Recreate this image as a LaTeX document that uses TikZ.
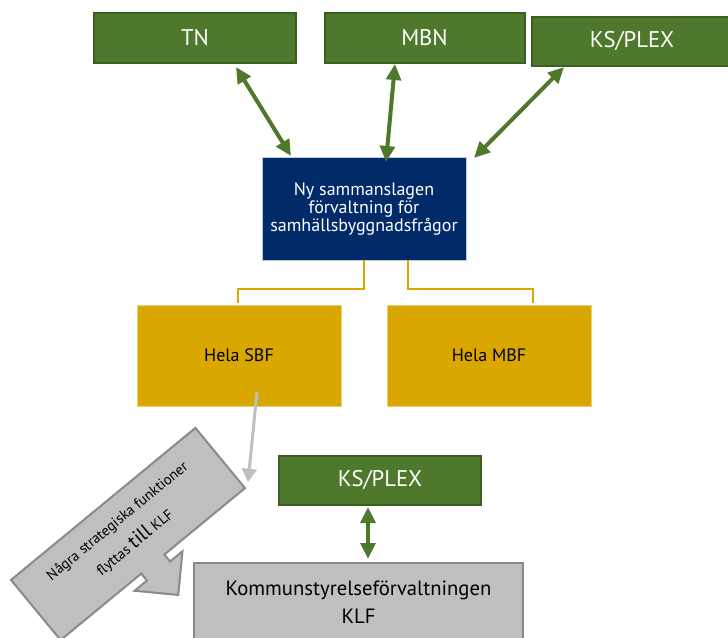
\documentclass[tikz,border=0pt]{standalone}
\usepackage{fontspec}
\setmainfont{PT Sans}
\usetikzlibrary{arrows.meta, calc}

\definecolor{gron}{RGB}{78,121,44}
\definecolor{gronkant}{RGB}{60,94,33}
\definecolor{marin}{RGB}{0,42,104}
\definecolor{gul}{RGB}{218,167,0}
\definecolor{gra}{RGB}{191,191,191}
\definecolor{grakant}{RGB}{138,138,138}

\tikzset{
  box/.style={inner sep=0pt, outer sep=0pt, align=center},
  gronbox/.style={box, draw=gronkant, line width=1.5pt, fill=gron, text=white,
    minimum width=150pt, minimum height=36.75pt, font=\fontsize{17}{20}\selectfont},
  marinbox/.style={box, draw=marin!25!white, line width=0.75pt, fill=marin, text=white,
    minimum width=153pt, minimum height=76.5pt, font=\fontsize{13.5}{13.8}\selectfont},
  gulbox/.style={box, draw=gul!55!white, line width=0.75pt, fill=gul,
    minimum width=153pt, minimum height=75.75pt, font=\fontsize{13.5}{16}\selectfont},
  grabox/.style={box, draw=grakant, line width=1.5pt, fill=gra},
  dubbelpil/.style={draw=gron, line width=3pt,
    {Triangle[length=12pt,width=11pt]}-{Triangle[length=12pt,width=11pt]}},
  gulline/.style={draw=gul, line width=2pt},
  grapil/.style={draw=gra, line width=2.25pt, -{Triangle[length=10pt,width=11pt]}}
}

\begin{document}
\begin{tikzpicture}[x=0.75pt, y=-0.75pt]
  \useasboundingbox (0,0) rectangle (728,638);
  \clip (0,0) rectangle (728,638);
  \fill[white] (0,0) rectangle (728,638);

  \node[gronbox, minimum width=151.5pt, minimum height=37.5pt] (tn) at (195,38) {TN};
  \node[gronbox, minimum height=37.5pt] (mbn) at (424.5,38) {MBN};
  \node[gronbox] (ks) at (632,41.5) {KS/PLEX};

  \node[marinbox] (ny) at (364,209) {Ny sammanslagen\\förvaltning för\\samhällsbyggnadsfrågor};

  \node[gulbox] (sbf) at (239,355.5) {Hela SBF};
  \node[gulbox] (mbf) at (489,355.5) {Hela MBF};

  \node[gronbox, minimum width=151.5pt] (ks2) at (380,480.5) {KS/PLEX};
  \node[grabox, minimum width=246.75pt, minimum height=58.5pt,
    font=\fontsize{15.5}{21}\selectfont] (klf) at (358.5,602)
    {Kommunstyrelseförvaltningen\\KLF};

  % pil till KLF
  \begin{scope}[shift={(128,534)}, rotate=39.5]
    \draw[grabox] (-119.5,-39) -- (119.5,-39) -- (119.5,39) -- (15,39) -- (15,48)
      -- (31,48) -- (0,79) -- (-31,48) -- (-15,48) -- (-15,39) -- (-119.5,39) -- cycle;
    \coordinate (horn) at (119.5,39);
    \node[box, transform shape, font=\fontsize{11}{19}\selectfont] (flytt) at (0,-2)
      {Några strategiska funktioner\\[2pt]flyttas {\fontsize{15}{19}\selectfont till} KLF};
  \end{scope}

  \draw[dubbelpil] ($(tn.south)+(41,4)$) -- ($(ny.north)+(-73,-2)$);
  \draw[dubbelpil] ($(mbn.south)+(-29.5,1)$) -- ($(ny.north)+(22,4)$);
  \draw[dubbelpil] ($(ks.south)+(-68,1)$) -- ($(ny.north east)+(8,0)$);
  \draw[dubbelpil] ($(ks2.south)+(-12,2)$) -- ($(klf.north)+(9.5,-4)$);

  \draw[gulline] (ny.south) -- ++(0,29) -| ($(sbf.north)+(-1,-2)$);
  \draw[gulline] ($(ny.south)+(44,0)$) -- ++(0,29) -| ($(mbf.north)+(44,-2)$);

  \draw[grapil] ($(sbf.south)+(18,-14)$) -- ($(horn)+(3,-6)$);
\end{tikzpicture}
\end{document}
